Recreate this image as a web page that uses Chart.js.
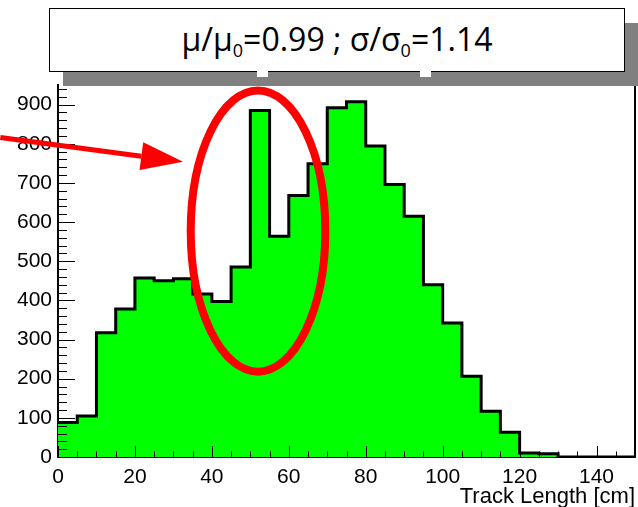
<!DOCTYPE html>
<html>
<head>
<meta charset="utf-8">
<script src="https://cdn.jsdelivr.net/npm/chart.js@4.4.0/dist/chart.umd.min.js"></script>
<style>
  body { margin: 0; background: #fff; }
  #wrap { position: relative; width: 638px; height: 507px; overflow: hidden; }
  #shadow { position: absolute; left: 63px; top: 23px; width: 580px; height: 63px; background: #808080; }
  #pave { position: absolute; left: 49px; top: 8px; width: 576px; height: 64px; background: #fff;
          border: 1px solid #000; box-sizing: border-box; font-family: "Open Sans", sans-serif;
          font-size: 32px; color: #000; text-align: center; line-height: 60px; }
  #pave sub { font-size: 18px; vertical-align: -6px; line-height: 0; }
  .nub { position: absolute; top: 71px; width: 11px; height: 6px; background: #fff; }
</style>
</head>
<body>
<div id="wrap">
  <canvas id="myChart" width="638" height="507"></canvas>
  <div id="shadow"></div>
  <div id="pave">μ/μ<sub>0</sub>=0.99 ; σ/σ<sub>0</sub>=1.14</div>
  <div class="nub" style="left:257px"></div>
  <div class="nub" style="left:420px"></div>
</div>
<script>
// bin lower edges [cm] and entries per bin
const binLow = [0, 5, 10, 15, 20, 25, 30, 35, 40, 45, 50, 55, 60, 65, 70,
  75, 80, 85, 90, 95, 100, 105, 110, 115, 120, 125, 130, 135, 140, 145, 150];
const counts = [88, 105, 317, 378, 457, 450, 455, 416, 397, 485, 885, 564, 668, 749, 892,
  907, 794, 696, 615, 440, 342, 206, 117, 63, 10, 8, 0, 0, 0, 0, 0];

// highlight ellipse (data coords) and arrow
const ellipse = { x: 52, y: 577, rx: 17.5, ry: 359 };
const arrow = { fromX: -15, fromY: 816, toX: 32.5, toY: 754 };

const histData = binLow.map((x, i) => ({ x: x, y: counts[i] }));

const tickMarks = {
  id: 'tickMarks',
  afterDatasetsDraw(chart) {
    const { ctx, chartArea, scales: { x, y } } = chart;
    ctx.save();
    ctx.strokeStyle = '#000';
    ctx.lineWidth = 1;
    ctx.beginPath();
    for (let v = 0; v <= 150; v += 5) {
      const px = Math.round(x.getPixelForValue(v)) + 0.5;
      const len = v % 20 === 0 ? 11 : 5.5;
      ctx.moveTo(px, chartArea.bottom);
      ctx.lineTo(px, chartArea.bottom - len);
    }
    for (let v = 0; v <= 940; v += 20) {
      const py = Math.round(y.getPixelForValue(v)) + 0.5;
      const len = v % 100 === 0 ? 17 : 9;
      ctx.moveTo(chartArea.left, py);
      ctx.lineTo(chartArea.left + len, py);
    }
    ctx.stroke();
    // right frame
    ctx.lineWidth = 2;
    ctx.beginPath();
    ctx.moveTo(chartArea.right, chartArea.top);
    ctx.lineTo(chartArea.right, chartArea.bottom);
    ctx.stroke();
    ctx.restore();
  }
};

const marks = {
  id: 'marks',
  afterDraw(chart) {
    const { ctx, scales: { x, y } } = chart;
    ctx.save();
    ctx.strokeStyle = '#ff0000';
    ctx.fillStyle = '#ff0000';
    // ellipse
    const cx = x.getPixelForValue(ellipse.x), cy = y.getPixelForValue(ellipse.y);
    const rx = x.getPixelForValue(ellipse.x + ellipse.rx) - cx;
    const ry = cy - y.getPixelForValue(ellipse.y + ellipse.ry);
    ctx.lineWidth = 8;
    ctx.beginPath();
    ctx.ellipse(cx, cy, rx, ry, 0, 0, Math.PI * 2);
    ctx.stroke();
    // arrow
    const x0 = x.getPixelForValue(arrow.fromX), y0 = y.getPixelForValue(arrow.fromY);
    const x1 = x.getPixelForValue(arrow.toX), y1 = y.getPixelForValue(arrow.toY);
    const d = Math.hypot(x1 - x0, y1 - y0);
    const ux = (x1 - x0) / d, uy = (y1 - y0) / d;
    const head = 42, half = 14;
    ctx.lineWidth = 5;
    ctx.beginPath();
    ctx.moveTo(x0, y0);
    ctx.lineTo(x1 - ux * head, y1 - uy * head);
    ctx.stroke();
    ctx.beginPath();
    ctx.moveTo(x1, y1);
    ctx.lineTo(x1 - ux * head - uy * half, y1 - uy * head + ux * half);
    ctx.lineTo(x1 - ux * head + uy * half, y1 - uy * head - ux * half);
    ctx.closePath();
    ctx.fill();
    ctx.restore();
  }
};

const ctx = document.getElementById('myChart').getContext('2d');
const myChart = new Chart(ctx, {
  type: 'line',
  data: {
    datasets: [{
      data: histData,
      stepped: 'before',
      fill: 'origin',
      backgroundColor: '#00ff00',
      borderColor: '#000',
      borderWidth: 3,
      pointRadius: 0,
      tension: 0
    }]
  },
  options: {
    responsive: false,
    animation: false,
    devicePixelRatio: 1,
    layout: { padding: { top: 85, right: 3, left: 0, bottom: 0 } },
    plugins: { legend: { display: false }, tooltip: { enabled: false } },
    scales: {
      x: {
        type: 'linear',
        min: 0,
        max: 150,
        afterFit: s => { s.height = 50; },
        grid: { display: false, drawTicks: false },
        border: { display: true, color: '#000', width: 2 },
        ticks: {
          stepSize: 20,
          includeBounds: false,
          maxRotation: 0,
          padding: 8,
          color: '#000',
          font: { family: '"Liberation Sans", Arial, sans-serif', size: 21 }
        },
        title: {
          display: true,
          text: 'Track Length [cm]',
          align: 'end',
          color: '#000',
          padding: { top: 0, bottom: -3 },
          font: { family: '"Liberation Sans", Arial, sans-serif', size: 22 }
        }
      },
      y: {
        min: 0,
        max: 950,
        afterFit: s => { s.width = 58; },
        grid: { display: false, drawTicks: false },
        border: { display: true, color: '#000', width: 2 },
        ticks: {
          stepSize: 100,
          includeBounds: false,
          padding: 6,
          color: '#000',
          font: { family: '"Liberation Sans", Arial, sans-serif', size: 21 }
        }
      }
    }
  },
  plugins: [tickMarks, marks]
});
</script>
</body>
</html>
